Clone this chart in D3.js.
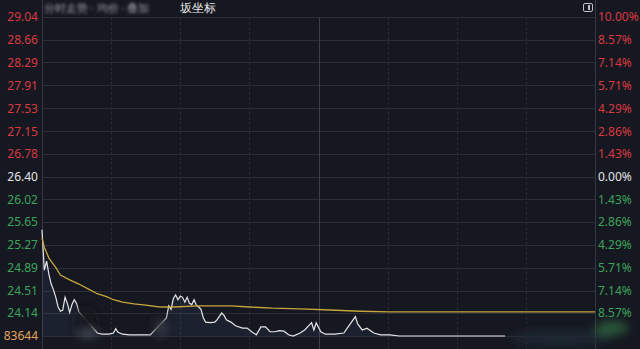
<!DOCTYPE html>
<html>
<head>
<meta charset="utf-8">
<script src="https://cdn.jsdelivr.net/npm/d3@7/dist/d3.min.js"></script>
<style>
  html, body { margin: 0; padding: 0; background: #151820; }
  svg { display: block; font-family: "Noto Sans", "DejaVu Sans", sans-serif; }
</style>
</head>
<body>
<svg id="chart" width="640" height="349"></svg>
<script>
// prev close and tick labels
var prevClose = 26.40;
var priceTicks = [29.04, 28.66, 28.29, 27.91, 27.53, 27.15, 26.78, 26.40, 26.02, 25.65, 25.27, 24.89, 24.51, 24.14];
var pctTicks = ["10.00%", "8.57%", "7.14%", "5.71%", "4.29%", "2.86%", "1.43%", "0.00%", "1.43%", "2.86%", "4.29%", "5.71%", "7.14%", "8.57%"];
var volLabel = "83644";

// minute of session (0..240) and price
var priceMin = [0, 1, 2, 3, 4, 5, 6, 7, 8, 9, 10, 11, 12, 13, 14, 15, 16,
  24, 26, 29, 31, 32, 33, 35, 38, 47,
  54, 55, 56, 57, 58, 59, 60, 61, 62, 63, 64, 65, 66, 67, 68, 69, 70, 71, 73, 75, 76, 78, 79, 80, 82, 84, 87, 89, 91, 93, 95, 97, 99,
  101, 103, 105, 107, 109, 112, 114, 116, 117, 118, 119, 121, 123, 127, 131, 133, 136, 137, 139, 141, 144, 147, 151, 155, 201];
var priceVal = [25.52, 24.85, 25.00, 24.78, 24.62, 24.52, 24.40, 24.24, 24.17, 24.19, 24.40, 24.30, 24.15, 24.28, 24.36, 24.30, 24.16,
  23.81, 23.79, 23.79, 23.81, 23.88, 23.82, 23.79, 23.78, 23.78,
  24.06, 24.26, 24.20, 24.38, 24.44, 24.36, 24.42, 24.40, 24.32, 24.40, 24.30, 24.28, 24.36, 24.27, 24.24, 24.20, 24.06, 23.99, 23.98, 23.99, 24.03, 24.14, 24.10, 24.03, 23.99, 23.93, 23.89, 23.89, 23.83, 23.78, 23.91, 23.91, 23.83,
  23.83, 23.85, 23.84, 23.78, 23.76, 23.81, 23.86, 23.94, 23.98, 23.86, 23.98, 23.83, 23.79, 23.79, 23.81, 23.92, 24.08, 23.96, 23.86, 23.89, 23.81, 23.78, 23.78, 23.76, 23.76];

var avgMin = [0, 1, 3, 6, 8, 12, 16, 20, 24, 28, 31, 35, 40, 45, 51, 57, 68, 82, 90, 100, 112, 125, 138, 151, 164, 240];
var avgVal = [25.38, 25.23, 25.05, 24.89, 24.77, 24.69, 24.62, 24.54, 24.46, 24.41, 24.36, 24.32, 24.29, 24.27, 24.24, 24.24, 24.26, 24.26, 24.24, 24.22, 24.21, 24.19, 24.17, 24.16, 24.16, 24.16];

var svg = d3.select("#chart");
var plotL = 42, plotR = 595, plotT = 17, plotB = 336;

var x = d3.scaleLinear().domain([0, 240]).range([plotL, plotR]);
var y = d3.scaleLinear().domain([prevClose * 0.9, priceTicks[0]]).range([plotB, plotT]);

var defs = svg.append("defs");
var blur = defs.append("filter").attr("id", "blur").attr("x", "-50%").attr("y", "-50%").attr("width", "200%").attr("height", "200%");
blur.append("feGaussianBlur").attr("stdDeviation", 5);
var blurTxt = defs.append("filter").attr("id", "blurTxt");
blurTxt.append("feGaussianBlur").attr("stdDeviation", 1.6);

// grid
var g = svg.append("g");
g.selectAll("line.h")
  .data(priceTicks.concat([prevClose * 0.9]))
  .enter().append("line")
  .attr("x1", plotL).attr("x2", plotR)
  .attr("y1", d => Math.round(y(d)) + 0.5).attr("y2", d => Math.round(y(d)) + 0.5)
  .attr("stroke", "#2a2e37").attr("stroke-width", 1);

var vt = d3.range(30, 240, 30);
g.selectAll("line.v")
  .data(vt)
  .enter().append("line")
  .attr("x1", d => Math.round(x(d)) + 0.5).attr("x2", d => Math.round(x(d)) + 0.5)
  .attr("y1", plotT).attr("y2", 349)
  .attr("stroke", d => d == 120 ? "#3a3f49" : "#262a33")
  .attr("stroke-dasharray", d => d == 120 ? null : "3,2");

// axis borders
[plotL, plotR].forEach(function (px) {
  g.append("line")
    .attr("x1", px + 0.5).attr("x2", px + 0.5)
    .attr("y1", 0).attr("y2", 349)
    .attr("stroke", "#353943");
});

// price area + line
var area = d3.area()
  .x((d, i) => x(priceMin[i]))
  .y0(plotB)
  .y1(d => y(d));
svg.append("path")
  .datum(priceVal)
  .attr("d", area)
  .attr("fill", "#5a7ab8")
  .attr("fill-opacity", 0.1);

var line = d3.line()
  .x((d, i) => x(priceMin[i]))
  .y(d => y(d));
svg.append("path")
  .datum(priceVal)
  .attr("d", line)
  .attr("fill", "none")
  .attr("stroke", "#e6e6e8")
  .attr("stroke-width", 1.2);

var avgLine = d3.line()
  .x((d, i) => x(avgMin[i]))
  .y(d => y(d));
svg.append("path")
  .datum(avgVal)
  .attr("d", avgLine)
  .attr("fill", "none")
  .attr("stroke", "#c9a53c")
  .attr("stroke-width", 1.3);

// watermark blur patches (cover parts of the line as in the source image)
var blobs = [
  {cx: 86, cy: 322, rx: 11, ry: 14, c: "#151820", o: 0.95},
  {cx: 88, cy: 334, rx: 10, ry: 4, c: "#9aa0aa", o: 0.3},
  {cx: 159, cy: 324, rx: 6, ry: 13, c: "#151820", o: 0.95},
  {cx: 161, cy: 328, rx: 5, ry: 8, c: "#9aa0aa", o: 0.25},
  {cx: 560, cy: 338, rx: 50, ry: 8, c: "#1d2733", o: 0.95},
  {cx: 612, cy: 328, rx: 16, ry: 7, c: "#3da25a", o: 0.45}
];
svg.append("g").attr("filter", "url(#blur)").selectAll("ellipse")
  .data(blobs)
  .enter().append("ellipse")
  .attr("cx", d => d.cx).attr("cy", d => d.cy)
  .attr("rx", d => d.rx).attr("ry", d => d.ry)
  .attr("fill", d => d.c).attr("fill-opacity", d => d.o);

// left labels
function tickColor(v) {
  if (Math.abs(v - prevClose) < 0.005) return "#e4e4e4";
  return v > prevClose ? "#d83a40" : "#3da25a";
}
svg.append("g").selectAll("text")
  .data(priceTicks)
  .enter().append("text")
  .attr("x", 38)
  .attr("y", d => y(d))
  .attr("dy", "0.36em")
  .attr("text-anchor", "end")
  .attr("font-size", 12)
  .attr("fill", tickColor)
  .text(d => d.toFixed(2));

svg.append("text")
  .attr("x", 38).attr("y", plotB).attr("dy", "0.36em")
  .attr("text-anchor", "end").attr("font-size", 12)
  .attr("fill", "#e2a35f")
  .text(volLabel);

// right labels
svg.append("g").selectAll("text")
  .data(pctTicks)
  .enter().append("text")
  .attr("x", 598)
  .attr("y", (d, i) => y(priceTicks[i]))
  .attr("dy", "0.36em")
  .attr("font-size", 12)
  .attr("fill", (d, i) => tickColor(priceTicks[i]))
  .text(d => d);

// title
svg.append("text")
  .attr("x", 44).attr("y", 12)
  .attr("font-size", 11)
  .attr("fill", "#9a9ca2")
  .attr("filter", "url(#blurTxt)")
  .text("分时走势 · 均价 · 叠加");
svg.append("text")
  .attr("x", 180).attr("y", 12)
  .attr("font-size", 12)
  .attr("fill", "#e8e8e8")
  .text("坂坐标");

// small icon top right
svg.append("rect")
  .attr("x", 583.5).attr("y", 3.5).attr("width", 9).attr("height", 8)
  .attr("rx", 1.5).attr("fill", "none").attr("stroke", "#bfc1c6");
svg.append("rect")
  .attr("x", 588).attr("y", 5).attr("width", 2).attr("height", 5)
  .attr("fill", "#bfc1c6");
</script>
</body>
</html>
